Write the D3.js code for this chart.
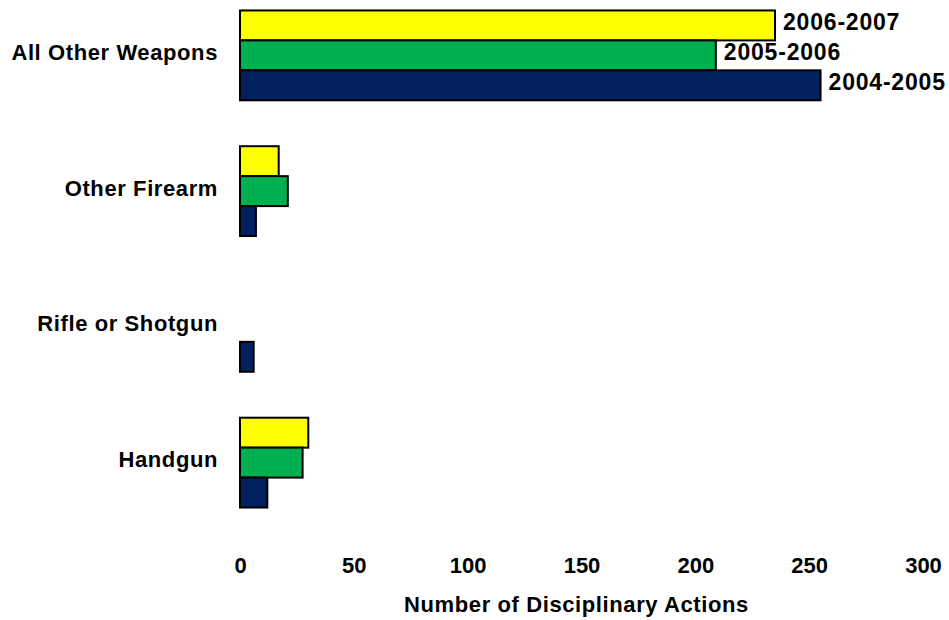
<!DOCTYPE html>
<html>
<head>
<meta charset="utf-8">
<script src="https://cdn.jsdelivr.net/npm/d3@7/dist/d3.min.js"></script>
<style>
  html, body { margin: 0; padding: 0; background: #fff; }
  svg { display: block; }
  text { font-family: Arial, "Liberation Sans", sans-serif; font-weight: bold; fill: #000; }
</style>
</head>
<body>
<svg id="chart" width="949" height="620"></svg>
<script>
const categories = ["All Other Weapons", "Other Firearm", "Rifle or Shotgun", "Handgun"];
const seriesNames = ["2006-2007", "2005-2006", "2004-2005"];
const values2006_2007 = [235, 17, 0, 30];
const values2005_2006 = [209, 21, 0, 27.5];
const values2004_2005 = [255, 7, 6, 12];
const seriesColors = ["#FFFF00", "#00B050", "#002060"];
const tickValues = [0, 50, 100, 150, 200, 250, 300];
const axisTitle = "Number of Disciplinary Actions";

const seriesValues = [values2006_2007, values2005_2006, values2004_2005];

const svg = d3.select("#chart");

const x = d3.scaleLinear().domain([0, 300]).range([240, 923]);
const y = d3.scaleBand().domain(categories).range([-13, 530])
  .paddingInner(46 / 136).paddingOuter(23 / 136);
const ySub = d3.scaleBand().domain(seriesNames).range([0, y.bandwidth()]);

const groups = svg.selectAll("g.cat").data(categories).join("g")
  .attr("class", "cat")
  .attr("transform", d => `translate(0,${y(d)})`);

groups.each(function(cat, ci) {
  const g = d3.select(this);
  seriesNames.forEach((s, si) => {
    const v = seriesValues[si][ci];
    if (v <= 0) return;
    g.append("rect")
      .attr("x", x(0))
      .attr("y", ySub(s) + 0.5)
      .attr("width", x(v) - x(0))
      .attr("height", ySub.bandwidth())
      .attr("fill", seriesColors[si])
      .attr("stroke", "#000")
      .attr("stroke-width", 2);
    if (ci === 0) {
      g.append("text")
        .attr("x", x(v) + 8)
        .attr("y", ySub(s) + ySub.bandwidth() / 2 + 5)
        .attr("font-size", 23)
        .attr("letter-spacing", 0.8)
        .text(s);
    }
  });
});

// Category labels
svg.append("g").selectAll("text").data(categories).join("text")
  .attr("x", 218)
  .attr("y", d => y(d) + y.bandwidth() / 2 + 5)
  .attr("text-anchor", "end")
  .attr("font-size", 22)
  .attr("letter-spacing", 0.6)
  .text(d => d);

// X axis (labels only)
const xAxis = d3.axisBottom(x).tickValues(tickValues).tickSize(0).tickPadding(0);
const ax = svg.append("g").attr("transform", "translate(0,557)").call(xAxis);
ax.select(".domain").remove();
ax.selectAll("text")
  .attr("font-size", 22)
  .attr("font-family", "Arial, 'Liberation Sans', sans-serif")
  .attr("font-weight", "bold")
  .attr("fill", "#000")
  .attr("dy", "0.71em");

svg.append("text")
  .attr("x", (403 + 750) / 2)
  .attr("y", 612)
  .attr("text-anchor", "middle")
  .attr("font-size", 22)
  .attr("letter-spacing", 0.6)
  .text(axisTitle);
</script>
</body>
</html>
